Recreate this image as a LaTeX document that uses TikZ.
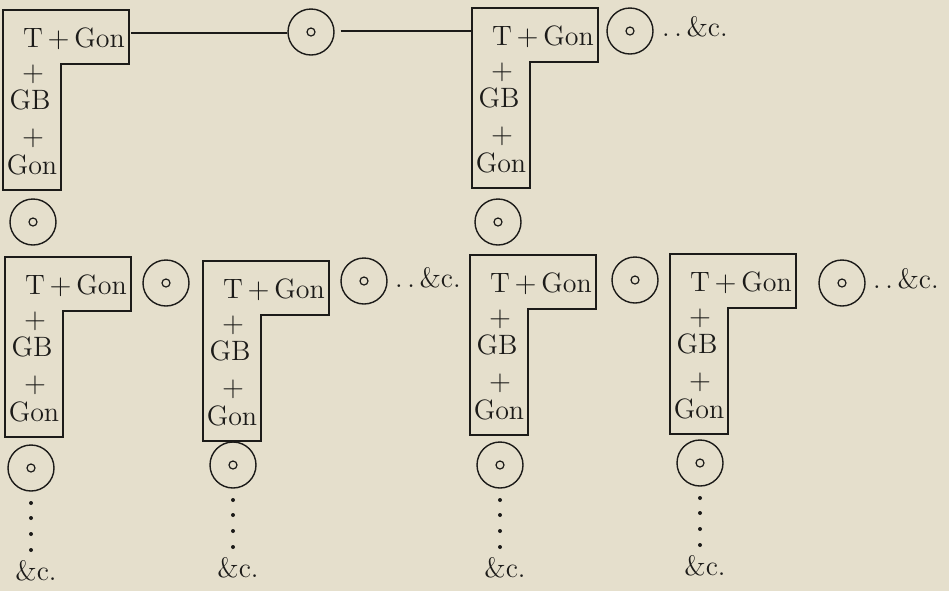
\documentclass[tikz,border=0pt]{standalone}
\usetikzlibrary{positioning}
\definecolor{paper}{RGB}{229,223,204}
\definecolor{ink}{RGB}{28,27,25}

% L-shaped frame with its five terms; #1 name, #2 #3 top left corner (px)
\newcommand{\lbox}[3]{%
  \draw[boxline] (#2,#3) -- ++(126,0) -- ++(0,54) -- ++(-68,0) -- ++(0,126) -- ++(-58,0) -- cycle;
  \node[term] (#1-t) at (#2+71,#3+37) {T$\mkern3mu+\mkern3mu$Gon};
  \node[term] (#1-p1) at (#2+30,#3+71) {$+$};
  \node[term] (#1-gb) at (#2+27,#3+99) {GB};
  \node[term] (#1-p2) at (#2+30,#3+135) {$+$};
  \node[term] (#1-g) at (#2+29,#3+164) {Gon};
  \coordinate (#1-w) at (#2,#3+23);
  \coordinate (#1-e) at (#2+126,#3+23);
}
% dotted tail under a ring
\newcommand{\trail}[1]{%
  \foreach \dy in {35,50,66,82}
    \fill[ink] ([shift={(0,\dy)}]#1.center) circle (1pt);
  \node[term] (#1-etc) at ([shift={(5,112)}]#1.center) {\&c.};
}

\begin{document}
\begin{tikzpicture}[
  x=0.5pt, y=-0.5pt,
  font=\fontsize{14}{17}\selectfont,
  boxline/.style={draw=ink, line width=0.6pt},
  term/.style={anchor=base, inner sep=0pt, text=ink},
  ring/.style={circle, draw=ink, line width=0.7pt, minimum size=23pt, inner sep=0pt,
    path picture={\draw[ink, line width=0.6pt] (path picture bounding box.center) circle (2pt);}},
  joinline/.style={draw=ink, line width=0.6pt},
  etc/.style={term, anchor=base west},
]
\fill[paper] (0,0) rectangle (949,591);

% upper row
\lbox{a}{3}{10}
\lbox{b}{472}{8}
\node[ring] (a-r) at (311,32) {};
\node[ring] (b-r) at (630,31) {};
\node[ring] (a-d) at (33,222) {};
\node[ring] (b-d) at (498,222) {};
\draw[joinline, shorten <=1pt] (a-e) -- (a-e -| a-r.west);
\draw[joinline, shorten <=3pt] (a-r.east |- b-w) -- (b-w);
\node[etc] (b-etc) at ([shift={(8,5)}]b-r.east) {.\,.\,\&c.};

% lower row
\lbox{c}{5}{257}
\lbox{d}{203}{261}
\lbox{e}{470}{255}
\lbox{f}{670}{254}
\node[ring] (c-r) at (166,283) {};
\node[ring] (d-r) at (364,281) {};
\node[ring] (e-r) at (635,280) {};
\node[ring] (f-r) at (842,283) {};
\node[etc] (d-etc) at ([shift={(7,6)}]d-r.east) {.\,.\,\&c.};
\node[etc] (f-etc) at ([shift={(7,5)}]f-r.east) {.\,.\,\&c.};
\node[ring] (c-d) at (31,468) {};
\node[ring] (d-d) at (233,465) {};
\node[ring] (e-d) at (500,465) {};
\node[ring] (f-d) at (700,463) {};
\trail{c-d}
\trail{d-d}
\trail{e-d}
\trail{f-d}

\end{tikzpicture}
\end{document}
